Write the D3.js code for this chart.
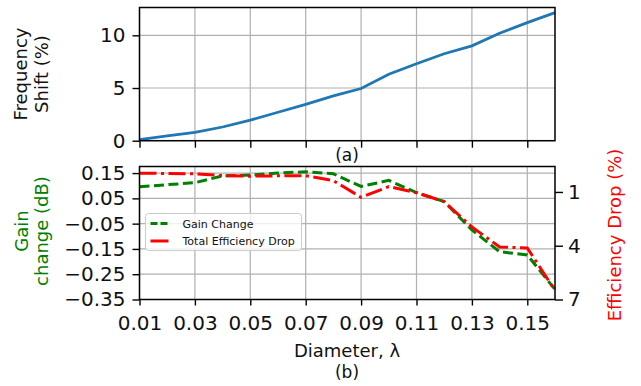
<!DOCTYPE html>
<html>
<head>
<meta charset="utf-8">
<script src="https://cdn.jsdelivr.net/npm/d3@7"></script>
<style>
    body { margin: 0; background: #fff; }
    svg { font-family: "DejaVu Sans", sans-serif; }
</style>
</head>
<body>
<div id="chart"></div>
<script>
// Diameter in wavelengths
let diameter = [0.01, 0.02, 0.03, 0.04, 0.05, 0.06, 0.07, 0.08,
                0.09, 0.10, 0.11, 0.12, 0.13, 0.14, 0.15, 0.16];
// (a) frequency shift, %
let freqShift = [0.1, 0.45, 0.8, 1.3, 1.95, 2.7, 3.45, 4.25,
                 4.95, 6.3, 7.3, 8.25, 9.0, 10.2, 11.2, 12.15];
// (b) gain change, dB
let gainChange = [0.096, 0.104, 0.112, 0.139, 0.142, 0.150, 0.155, 0.147,
                  0.097, 0.121, 0.073, 0.037, -0.075, -0.161, -0.174, -0.31];
// (b) total efficiency drop, %
let effDrop = [-0.05, -0.03, -0.01, 0.09, 0.12, 0.10, 0.09, 0.37,
               1.30, 0.70, 1.04, 1.54, 2.95, 4.07, 4.12, 6.50];

let xTicks = [0.01, 0.03, 0.05, 0.07, 0.09, 0.11, 0.13, 0.15];
let freqTicks = [0, 5, 10];
let gainTicks = [0.15, 0.05, -0.05, -0.15, -0.25, -0.35];
let effTicks = [1, 4, 7];

let width = 641,
    height = 386;

let plotLeft = 139.5,
    plotRight = 555;

let top1 = 7.5, bottom1 = 140.7,
    top2 = 166.5, bottom2 = 299.5;

let svg = d3.select('#chart')
    .append('svg')
    .attr('width', width)
    .attr('height', height);

let x = d3.scaleLinear().domain([0.01, 0.16]).range([plotLeft, plotRight]);
let yFreq = d3.scaleLinear().domain([0, 12.64]).range([bottom1, top1]);
let yGain = d3.scaleLinear().domain([-0.35, 0.176]).range([bottom2, top2]);
let yEff = d3.scaleLinear().domain([-0.42, 7]).range([top2, bottom2]);

const gridColor = '#b0b0b0';
const tickFont = 20,
      labelFont = 18;

function gridX(top, bottom) {
    svg.append('g').selectAll('line')
        .data(xTicks)
        .enter()
        .append('line')
        .attr('x1', d => x(d)).attr('x2', d => x(d))
        .attr('y1', top).attr('y2', bottom)
        .style('stroke', gridColor).style('stroke-width', 1.2);
}

function gridY(scale, ticks) {
    svg.append('g').selectAll('line')
        .data(ticks)
        .enter()
        .append('line')
        .attr('x1', plotLeft).attr('x2', plotRight)
        .attr('y1', d => scale(d)).attr('y2', d => scale(d))
        .style('stroke', gridColor).style('stroke-width', 1.2);
}

function styleAxis(g) {
    g.select('.domain').remove();
    g.selectAll('.tick line').style('stroke', '#000').style('stroke-width', 1.4);
    g.selectAll('.tick text')
        .style('font-size', tickFont + 'px')
        .style('font-family', '"DejaVu Sans", sans-serif')
        .style('fill', '#111');
}

function frame(top, bottom) {
    svg.append('rect')
        .attr('x', plotLeft).attr('y', top)
        .attr('width', plotRight - plotLeft).attr('height', bottom - top)
        .style('fill', 'none').style('stroke', '#000').style('stroke-width', 1.5);
}

function twoLineLabel(tx, ty, lines, color, gap) {
    svg.append('text')
        .attr('transform', 'translate(' + tx + ',' + ty + ') rotate(-90)')
        .attr('text-anchor', 'middle')
        .style('font-size', labelFont + 'px')
        .style('fill', color)
        .selectAll('tspan')
        .data(lines)
        .enter()
        .append('tspan')
        .attr('x', 0)
        .attr('dy', (d, i) => i === 0 ? 0 : gap)
        .text(d => d);
}

// #region (a) frequency shift

gridX(top1, bottom1);
gridY(yFreq, freqTicks);

svg.append('path')
    .datum(d3.zip(diameter, freqShift))
    .attr('d', d3.line().x(d => x(d[0])).y(d => yFreq(d[1])))
    .style('fill', 'none')
    .style('stroke', '#1f77b4')
    .style('stroke-width', 2.8);

svg.append('g')
    .attr('transform', 'translate(' + plotLeft + ',0)')
    .call(d3.axisLeft(yFreq).tickValues(freqTicks).tickSize(7).tickPadding(7))
    .call(styleAxis);

svg.append('g')
    .attr('transform', 'translate(0,' + bottom1 + ')')
    .call(d3.axisBottom(x).tickValues(xTicks).tickSize(7).tickFormat(''))
    .call(styleAxis);

frame(top1, bottom1);

twoLineLabel(27, 74, ['Frequency', 'Shift (%)'], '#111', 21);

svg.append('text')
    .attr('x', 347).attr('y', 161)
    .attr('text-anchor', 'middle')
    .style('font-size', '17px')
    .style('fill', '#111')
    .text('(a)');

// #endregion

// #region (b) gain change and efficiency drop

gridX(top2, bottom2);
gridY(yGain, gainTicks);

svg.append('path')
    .datum(d3.zip(diameter, gainChange))
    .attr('d', d3.line().x(d => x(d[0])).y(d => yGain(d[1])))
    .style('fill', 'none')
    .style('stroke', 'green')
    .style('stroke-width', 3)
    .style('stroke-dasharray', '10,4.5');

svg.append('path')
    .datum(d3.zip(diameter, effDrop))
    .attr('d', d3.line().x(d => x(d[0])).y(d => yEff(d[1])))
    .style('fill', 'none')
    .style('stroke', 'red')
    .style('stroke-width', 3)
    .style('stroke-dasharray', '17,4.5,3,4.5');

svg.append('g')
    .attr('transform', 'translate(' + plotLeft + ',0)')
    .call(d3.axisLeft(yGain).tickValues(gainTicks).tickSize(7).tickPadding(7).tickFormat(d3.format('.2f')))
    .call(styleAxis);

svg.append('g')
    .attr('transform', 'translate(' + plotRight + ',0)')
    .call(d3.axisRight(yEff).tickValues(effTicks).tickSize(8).tickPadding(5))
    .call(styleAxis);

svg.append('g')
    .attr('transform', 'translate(0,' + bottom2 + ')')
    .call(d3.axisBottom(x).tickValues(xTicks).tickSize(6).tickPadding(10.5).tickFormat(d3.format('.2f')))
    .call(styleAxis);

frame(top2, bottom2);

// legend
let legend = svg.append('g').attr('transform', 'translate(145.5,213.5)');
legend.append('rect')
    .attr('width', 156).attr('height', 37).attr('rx', 3)
    .style('fill', '#fff').style('fill-opacity', 0.8)
    .style('stroke', '#ccc').style('stroke-width', 1);

let legendItems = [
    {label: 'Gain Change', color: 'green', dash: '7,3'},
    {label: 'Total Efficiency Drop', color: 'red', dash: '18,4'}
];

legendItems.forEach(function(item, i) {
    let ly = 10 + i * 17.5;
    legend.append('line')
        .attr('x1', 5).attr('x2', 23)
        .attr('y1', ly).attr('y2', ly)
        .style('stroke', item.color)
        .style('stroke-width', 3)
        .style('stroke-dasharray', item.dash);
    legend.append('text')
        .attr('x', 37).attr('y', ly + 4)
        .style('font-size', '11px')
        .style('fill', '#111')
        .text(item.label);
});

twoLineLabel(28, 231, ['Gain', 'change (dB)'], 'green', 20);

svg.append('text')
    .attr('transform', 'translate(621,235) rotate(-90)')
    .attr('text-anchor', 'middle')
    .style('font-size', labelFont + 'px')
    .style('fill', 'red')
    .text('Efficiency Drop (%)');

svg.append('text')
    .attr('x', 347).attr('y', 357)
    .attr('text-anchor', 'middle')
    .style('font-size', labelFont + 'px')
    .style('fill', '#111')
    .text('Diameter, λ');

svg.append('text')
    .attr('x', 347).attr('y', 378)
    .attr('text-anchor', 'middle')
    .style('font-size', '17px')
    .style('fill', '#111')
    .text('(b)');

// #endregion
</script>
</body>
</html>
